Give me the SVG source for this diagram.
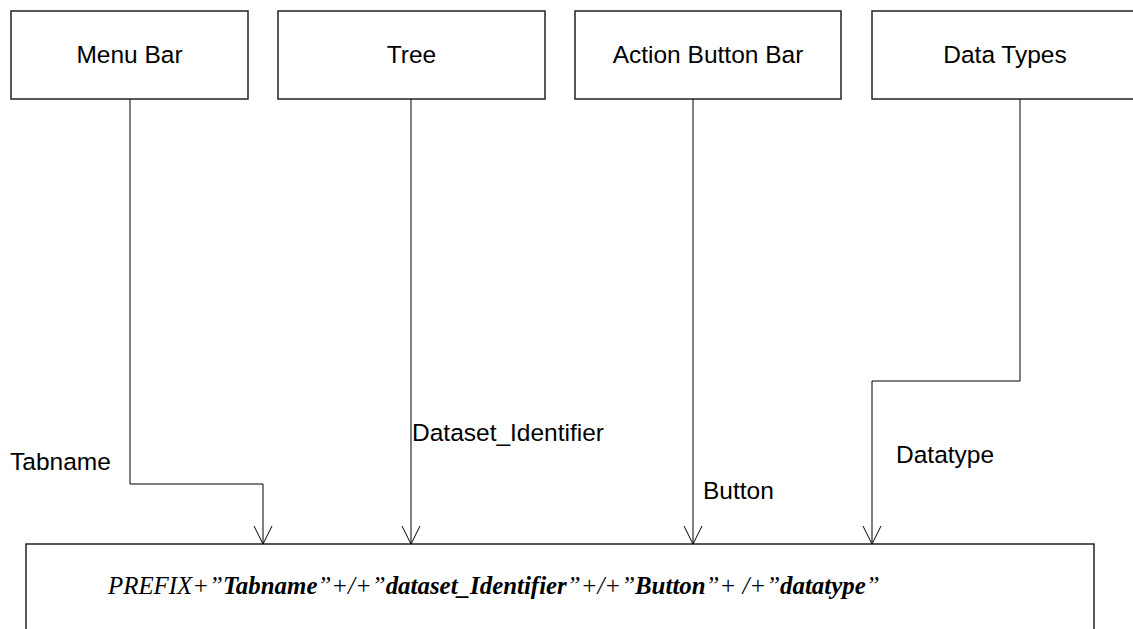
<svg xmlns="http://www.w3.org/2000/svg" width="1133" height="629" viewBox="0 0 1133 629">
<style>
.box{fill:#fff;stroke:#222;stroke-width:1.5}
.lbl{font-family:"Liberation Sans",Arial,sans-serif;font-size:24.5px;fill:#000}
.mid{text-anchor:middle}
.con{fill:none;stroke:#000;stroke-width:1}
.formula{font-family:"Liberation Serif","Times New Roman",serif;font-size:24.9px;font-style:italic;fill:#000}
.b{font-weight:bold}
</style>
<defs>
<marker id="open" markerUnits="userSpaceOnUse" markerWidth="22" markerHeight="22" refX="19" refY="10" orient="auto" viewBox="0 0 22 20">
<path d="M1,1 L19,10 L1,19" fill="none" stroke="#000" stroke-width="1"/>
</marker>
</defs>
<rect width="1133" height="629" fill="#fff"/>
<g id="node-menu-bar">
<rect class="box" x="11" y="11" width="237" height="88"/>
<text class="lbl mid" x="129.5" y="63">Menu Bar</text>
</g>
<g id="node-tree">
<rect class="box" x="278" y="11" width="267" height="88"/>
<text class="lbl mid" x="411.5" y="63">Tree</text>
</g>
<g id="node-action-button-bar">
<rect class="box" x="575" y="11" width="266" height="88"/>
<text class="lbl mid" x="708" y="63">Action Button Bar</text>
</g>
<g id="node-data-types">
<rect class="box" x="872" y="11" width="270" height="88"/>
<text class="lbl mid" x="1005" y="63">Data Types</text>
</g>
<g id="node-result">
<rect class="box" x="26" y="544" width="1068" height="100"/>
<text class="formula" x="108" y="594">PREFIX+”<tspan class="b">Tabname</tspan>”+/+”<tspan class="b">dataset_Identifier</tspan>”+/+”<tspan class="b">Button</tspan>”+ /+”<tspan class="b">datatype</tspan>”</text>
</g>
<g id="connectors">
<path class="con" d="M130,99 V484 H263 V544" marker-end="url(#open)"/>
<path class="con" d="M411,99 V544" marker-end="url(#open)"/>
<path class="con" d="M693,99 V544" marker-end="url(#open)"/>
<path class="con" d="M1020,99 V381 H872 V544" marker-end="url(#open)"/>
<text class="lbl" x="10" y="470">Tabname</text>
<text class="lbl" x="412" y="441">Dataset_Identifier</text>
<text class="lbl" x="703" y="499">Button</text>
<text class="lbl" x="896" y="463">Datatype</text>
</g>
</svg>
